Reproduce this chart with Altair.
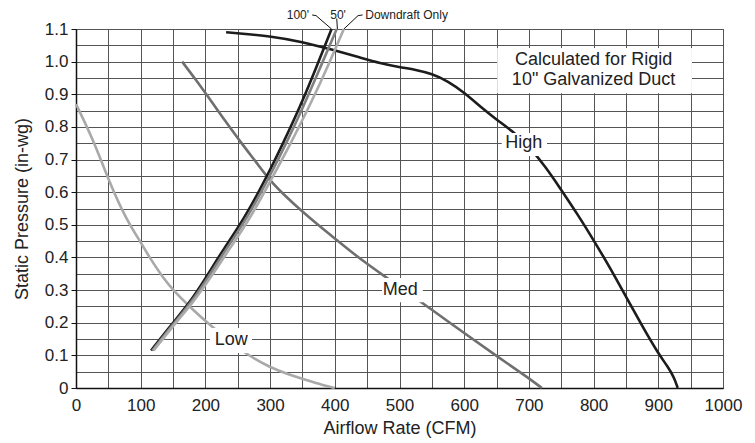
import altair as alt
import pandas as pd

FONT = "Liberation Sans"

# ---- fan performance curves (CFM, in-wg) ----
high_cfm = [232, 260, 300, 350, 397, 440, 470, 500, 525, 550, 575, 600, 625, 650, 675, 700, 725, 750, 775, 800, 825, 850, 875, 900, 915, 925, 930]
high_p = [1.09, 1.085, 1.078, 1.061, 1.036, 1.012, 0.995, 0.983, 0.975, 0.963, 0.94, 0.905, 0.862, 0.822, 0.787, 0.74, 0.68, 0.607, 0.533, 0.453, 0.37, 0.28, 0.19, 0.105, 0.065, 0.03, 0.0]

med_cfm = [164, 185, 205, 230, 255, 280, 300, 325, 350, 375, 400, 425, 450, 475, 500, 550, 600, 650, 700, 720]
med_p = [1.0, 0.945, 0.89, 0.82, 0.752, 0.688, 0.635, 0.585, 0.54, 0.498, 0.458, 0.418, 0.38, 0.345, 0.31, 0.24, 0.168, 0.098, 0.03, 0.0]

low_cfm = [0, 27, 52, 78, 101, 114, 135, 150, 176, 212, 240, 261, 300, 331, 360, 380, 400]
low_p = [0.87, 0.76, 0.628, 0.515, 0.444, 0.398, 0.337, 0.3, 0.248, 0.184, 0.14, 0.107, 0.062, 0.04, 0.022, 0.01, 0.0]

# ---- system (duct) curves ----
sys100_cfm = [116, 150, 175, 200, 226, 259, 295, 320, 346, 370, 395]
sys100_p = [0.115, 0.2, 0.26, 0.335, 0.42, 0.515, 0.647, 0.75, 0.86, 0.975, 1.1]

sys50_cfm = [118, 152, 177, 203, 230, 263, 299, 325, 351, 376, 403]
sys50_p = [0.115, 0.2, 0.26, 0.335, 0.42, 0.515, 0.647, 0.75, 0.86, 0.975, 1.1]

sysdd_cfm = [120, 154, 180, 207, 235, 268, 304, 332, 360, 387, 414]
sysdd_p = [0.115, 0.2, 0.26, 0.335, 0.42, 0.515, 0.647, 0.75, 0.86, 0.975, 1.1]

series_names = ["Low", "Downdraft Only", "Med", "50'", "High", "100'"]
series_colors = ["#a9a9a9", "#ababab", "#6f6f6f", "#808080", "#1c1c1c", "#1c1c1c"]

# ---- annotations ----
curve_labels = ["High", "Med", "Low"]
curve_label_cfm = [692, 501, 240]
curve_label_p = [0.752, 0.30, 0.147]
box_x1 = [658, 473, 207, 651]
box_x2 = [728, 536, 272, 952]
box_y1 = [0.711, 0.263, 0.107, 0.903]
box_y2 = [0.781, 0.337, 0.184, 1.042]

note_lines = ["Calculated for Rigid", "10\" Galvanized Duct"]
note_cfm = [800, 800]
note_p = [1.005, 0.944]

top_labels_c = ["100'", "50'"]
top_labels_c_cfm = [343, 405]
top_label_dd = ["Downdraft Only"]
top_label_dd_cfm = [447]
top_label_p = 1.143

leader_group = ["100'", "100'", "100'", "50'", "50'", "DD", "DD", "DD"]
leader_cfm = [365, 371, 395, 403, 404, 443, 436, 414]
leader_p = [1.143, 1.141, 1.1, 1.132, 1.1, 1.143, 1.141, 1.1]

x_major_values = list(range(0, 1001, 100))
x_minor_values = list(range(0, 1001, 50))
y_major_values = [round(i * 0.1, 1) for i in range(12)]
y_minor_values = [round(i * 0.05, 2) for i in range(23)]

# ---- build tables ----
rows = []
for name, xs, ys in [("High", high_cfm, high_p), ("Med", med_cfm, med_p), ("Low", low_cfm, low_p),
                     ("100'", sys100_cfm, sys100_p), ("50'", sys50_cfm, sys50_p),
                     ("Downdraft Only", sysdd_cfm, sysdd_p)]:
    for i, (x, y) in enumerate(zip(xs, ys)):
        rows.append({"series": name, "cfm": x, "p": y, "order": i})
curves = pd.DataFrame(rows)

boxes = pd.DataFrame({"x1": box_x1, "x2": box_x2, "y1": box_y1, "y2": box_y2})
clabels = pd.DataFrame({"text": curve_labels, "cfm": curve_label_cfm, "p": curve_label_p})
notes = pd.DataFrame({"text": note_lines, "cfm": note_cfm, "p": note_p})
tops_c = pd.DataFrame({"text": top_labels_c, "cfm": top_labels_c_cfm, "p": [top_label_p] * 2})
tops_l = pd.DataFrame({"text": top_label_dd, "cfm": top_label_dd_cfm, "p": [top_label_p]})
leaders = pd.DataFrame({"g": leader_group, "cfm": leader_cfm, "p": leader_p,
                        "order": list(range(len(leader_cfm)))})

x_scale = alt.Scale(domain=[0, 1000], nice=False, zero=False)
y_scale = alt.Scale(domain=[0, 1.1], nice=False, zero=False)

GRID = "#555555"

x_axis = alt.Axis(
    values=x_major_values, format="d",
    ticks=False,
    grid=True, gridColor=GRID, gridWidth=1,
    domainColor="#111111", domainWidth=1.5,
    labelFont=FONT, labelFontSize=17, labelColor="#222222",
    labelPadding=9, labelFlush=False, labelOverlap=False,
    titleFont=FONT, titleFontSize=18, titleFontWeight="normal", titleColor="#222222",
    titlePadding=6,
)
x_grid_axis = alt.Axis(
    orient="top", values=x_minor_values, labels=False, ticks=False, domain=False,
    grid=True, gridColor=GRID, gridWidth=1, title=None,
)
y_axis = alt.Axis(
    values=y_major_values,
    labelExpr="datum.value == 0 ? '0' : format(datum.value, '.1f')",
    ticks=True, tickSize=5, tickColor="#111111",
    grid=True, gridColor=GRID, gridWidth=1,
    domainColor="#111111", domainWidth=1.5,
    labelFont=FONT, labelFontSize=17, labelColor="#222222",
    labelPadding=3, labelOverlap=False,
    titleFont=FONT, titleFontSize=18, titleFontWeight="normal", titleColor="#222222",
    titlePadding=13,
)
y_grid_axis = alt.Axis(
    orient="right", values=y_minor_values, labels=False, ticks=False, domain=False,
    grid=True, gridColor=GRID, gridWidth=1, title=None,
)

lines = alt.Chart(curves).mark_line(strokeWidth=2.6, interpolate="basis").encode(
    x=alt.X("cfm:Q", scale=x_scale, axis=x_axis, title="Airflow Rate (CFM)"),
    y=alt.Y("p:Q", scale=y_scale, axis=y_axis, title="Static Pressure (in-wg)"),
    color=alt.Color("series:N", scale=alt.Scale(domain=series_names, range=series_colors), legend=None),
    detail="series:N",
    order="order:Q",
)

rects = alt.Chart(boxes).mark_rect(fill="white", strokeWidth=0).encode(
    x=alt.X("x1:Q", scale=x_scale, axis=x_grid_axis),
    x2="x2:Q",
    y=alt.Y("y1:Q", scale=y_scale, axis=y_grid_axis),
    y2="y2:Q",
)

def text_layer(df, size, align="center"):
    return alt.Chart(df).mark_text(font=FONT, fontSize=size, color="#222222", align=align,
                                   baseline="middle").encode(
        x=alt.X("cfm:Q", scale=x_scale, axis=None),
        y=alt.Y("p:Q", scale=y_scale, axis=None),
        text="text:N",
    )

leader_lines = alt.Chart(leaders).mark_line(strokeWidth=1, color="#111111").encode(
    x=alt.X("cfm:Q", scale=x_scale, axis=None),
    y=alt.Y("p:Q", scale=y_scale, axis=None),
    detail="g:N",
    order="order:Q",
)

chart = alt.layer(
    lines, rects,
    text_layer(clabels, 18), text_layer(notes, 18),
    leader_lines, text_layer(tops_c, 12), text_layer(tops_l, 12, align="left"),
).resolve_axis(x="independent", y="independent").properties(
    width=647, height=359,
    autosize=alt.AutoSizeParams(type="none"),
    padding={"left": 68, "top": 21, "right": 24, "bottom": 55},
).configure_view(strokeWidth=0)

chart.save("out.html", embed_options={"renderer": "svg", "actions": False})
